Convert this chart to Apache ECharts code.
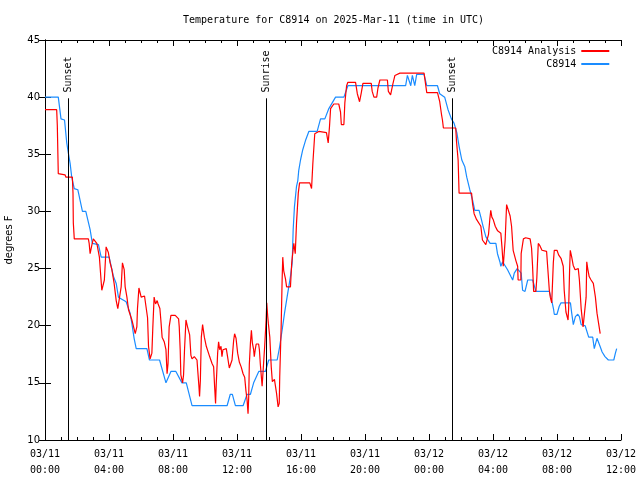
<!DOCTYPE html>
<html>
<head>
<meta charset="utf-8">
<script src="https://cdn.jsdelivr.net/npm/echarts@6/dist/echarts.min.js"></script>
<style>html,body{margin:0;padding:0;background:#fff}#c{width:640px;height:480px}</style>
</head>
<body>
<div id="c"></div>
<script>
// Hours since 2025-03-11 00:00 UTC
const analysisHours = [0,0.73,0.77,0.83,1.25,1.31,1.71,1.75,1.77,1.83,2.71,2.76,2.82,2.92,3.02,3.24,3.40,3.44,3.55,3.71,3.82,3.96,4.07,4.18,4.32,4.45,4.55,4.65,4.76,4.84,4.95,5.01,5.12,5.22,5.43,5.64,5.74,5.78,5.87,6.01,6.22,6.33,6.41,6.47,6.57,6.68,6.74,6.82,6.91,7.01,7.07,7.18,7.24,7.32,7.45,7.56,7.63,7.69,7.76,7.87,8.14,8.35,8.39,8.45,8.49,8.60,8.66,8.72,8.81,8.91,9.04,9.12,9.19,9.33,9.50,9.54,9.62,9.66,9.71,9.77,9.85,9.96,10.08,10.16,10.29,10.44,10.54,10.60,10.66,10.70,10.79,10.85,10.92,11.00,11.06,11.12,11.33,11.41,11.52,11.64,11.69,11.79,11.85,11.94,12.04,12.15,12.26,12.38,12.48,12.56,12.63,12.69,12.73,12.77,12.84,12.90,12.96,13.04,13.08,13.14,13.20,13.35,13.40,13.46,13.57,13.67,13.73,13.82,13.86,13.92,13.96,14.05,14.14,14.21,14.34,14.47,14.57,14.64,14.67,14.76,14.82,14.86,14.92,15.03,15.10,15.34,15.42,15.55,15.64,15.72,15.83,15.91,16.55,16.66,16.74,16.86,17.11,17.59,17.70,17.78,17.85,18.05,18.36,18.47,18.52,18.68,18.74,18.85,18.93,19.41,19.52,19.66,19.77,19.87,20.39,20.45,20.56,20.73,20.81,20.93,21.40,21.46,21.60,21.75,21.87,22.18,23.69,23.86,24.53,24.67,24.78,24.84,24.90,25.67,25.72,25.82,25.88,26.66,26.72,26.82,26.97,27.24,27.34,27.55,27.66,27.72,27.80,27.86,27.93,28.01,28.14,28.29,28.49,28.56,28.64,28.70,28.76,28.85,28.97,29.07,29.16,29.26,29.43,29.54,29.57,29.74,29.76,29.90,30.04,30.32,30.41,30.47,30.54,30.68,30.74,30.83,30.93,31.06,31.35,31.42,31.52,31.58,31.67,31.77,31.83,32.00,32.10,32.25,32.39,32.45,32.56,32.69,32.73,32.79,32.83,32.92,33.01,33.13,33.25,33.33,33.40,33.51,33.63,33.71,33.82,33.86,33.92,34.01,34.13,34.27,34.33,34.40,34.50,34.60,34.70];
const analysisTemps = [38.9,38.9,37.5,33.3,33.2,33.0,33.0,31.6,29.0,27.6,27.6,27.2,26.3,27.0,27.6,27.2,26.0,25.2,23.1,24.0,26.9,26.4,25.5,24.9,23.7,22.2,21.5,21.5,23.4,25.5,24.9,23.4,22.5,21.4,20.5,19.3,19.9,21.5,23.3,22.5,22.6,22.5,20.7,18.2,17.1,17.6,19.9,22.5,21.9,22.2,21.9,21.5,20.5,19.0,18.6,17.9,15.8,16.7,19.9,20.9,20.9,20.6,19.9,17.9,15.7,15.0,15.7,17.9,20.5,19.9,19.2,17.4,17.1,17.3,17.0,16.2,14.7,13.8,15.2,19.0,20.1,19.0,18.2,18.1,17.3,16.7,16.4,14.7,13.2,14.8,17.6,18.6,17.9,18.2,17.3,17.9,18.0,17.3,16.3,16.2,17.0,18.7,19.3,18.9,17.6,16.8,16.4,15.8,15.5,14.3,13.5,12.3,13.7,16.6,18.5,19.6,18.5,17.9,17.3,17.9,18.4,18.4,17.9,16.6,14.7,14.6,18.2,20.5,22.0,20.8,20.2,19.0,16.4,15.1,15.3,14.1,12.9,13.2,15.5,19.9,24.0,26.0,24.8,24.1,23.4,23.4,25.5,27.2,26.3,29.0,31.6,32.5,32.5,32.0,34.2,36.8,37.0,36.9,36.0,37.4,39.0,39.4,39.4,38.7,37.6,37.6,39.5,41.0,41.3,41.3,40.3,39.6,40.4,41.2,41.2,40.5,40.0,40.0,40.8,41.5,41.5,40.5,40.2,41.2,41.9,42.1,42.1,40.4,40.4,39.6,38.5,38.0,37.3,37.3,36.1,34.5,31.6,31.6,30.7,29.8,29.3,28.7,27.5,27.1,27.2,28.0,29.3,30.1,29.5,29.3,28.7,28.3,28.1,26.9,25.2,25.2,27.5,30.6,30.6,29.6,28.7,26.6,25.7,25.2,24.0,24.0,26.3,27.6,27.7,27.6,26.8,25.3,23.0,23.0,24.2,27.2,27.0,26.6,26.5,25.1,23.1,22.5,22.0,25.5,26.6,26.6,26.2,25.9,25.2,23.1,21.2,20.5,21.6,25.0,26.6,26.0,25.3,24.9,24.9,25.0,24.0,21.5,19.9,19.8,22.5,25.6,25.0,24.3,24.0,23.7,23.7,22.5,21.1,20.2,19.3];
const obsHours = [0,0.83,1.00,1.22,1.36,1.46,1.57,1.67,1.83,2.05,2.34,2.55,2.82,2.96,3.34,3.51,4.01,4.28,4.45,4.59,5.07,5.32,5.43,5.57,5.70,6.37,6.53,7.16,7.56,7.87,8.18,8.56,8.83,9.19,11.38,11.58,11.71,11.90,12.38,12.63,12.84,13.04,13.36,13.78,13.98,14.51,14.67,14.82,14.97,15.13,15.34,15.45,15.51,15.59,15.72,15.80,15.86,15.97,16.11,16.28,16.49,17.01,17.22,17.49,17.74,18.16,18.68,18.93,22.54,22.65,22.86,22.96,23.11,23.23,23.69,23.86,24.53,24.67,24.98,25.19,25.40,25.57,25.74,25.88,26.05,26.24,26.36,26.55,26.72,26.86,27.13,27.24,27.38,27.55,27.82,28.18,28.28,28.43,28.49,28.60,28.70,28.91,29.12,29.23,29.33,29.51,29.76,29.85,30.00,30.17,30.48,30.68,31.52,31.67,31.79,31.83,32.00,32.14,32.25,32.84,32.92,33.02,33.15,33.30,33.40,33.51,33.76,33.98,34.23,34.33,34.50,34.55,34.69,34.82,35.00,35.21,35.55,35.65,35.73];
const obsTemps = [40.0,40.0,38.1,38.0,36.0,35.1,34.2,33.0,32.0,31.9,30.0,30.0,28.4,27.2,27.1,26.0,26.0,24.3,23.7,22.5,22.1,21.1,20.2,18.9,18.0,18.0,17.0,17.0,15.0,16.0,16.0,15.0,15.0,13.0,13.0,14.0,14.0,13.0,13.0,14.0,14.0,15.0,16.0,16.0,17.0,17.0,18.2,19.6,21.1,22.5,24.3,25.5,28.4,30.4,32.2,32.7,33.6,34.5,35.4,36.2,37.0,37.0,38.1,38.1,39.0,40.0,40.0,41.0,41.0,41.9,41.0,41.9,41.0,42.0,42.0,41.0,41.0,40.3,40.0,38.9,38.1,37.7,36.9,35.7,34.5,33.9,33.0,31.9,31.0,30.1,30.1,29.5,28.7,27.8,27.2,27.2,26.3,25.6,25.2,25.6,25.7,24.9,24.3,24.0,24.6,25.0,24.6,23.1,23.0,24.0,24.0,23.0,23.0,22.2,21.4,21.0,21.0,21.7,22.0,22.0,21.1,20.1,20.8,21.0,20.8,20.1,20.0,19.0,19.0,18.0,18.9,19.0,18.2,17.7,17.3,17.0,17.0,17.6,18.0];
const eventNames = ['Sunset','Sunrise','Sunset'];
const eventHours = [1.46,13.85,25.45];
const eventTop = 39.9;      // top end of the event lines (deg F)
const eventLabelBase = 40.4; // where the rotated event labels start (deg F)
const seriesNames = ['C8914 Analysis','C8914'];
const seriesColors = ['#ff0000','#1a8cff'];
const dayLabels = ['03/11','03/12'];
const titleText = 'Temperature for C8914 on 2025-Mar-11 (time in UTC)';
const yName = 'degrees F';

const mono = 'DejaVu Sans Mono';
const sans = 'DejaVu Sans';
function pair(h, v){ return h.map((x,i)=>[x, v[i]]); }
function pad(n){ return (n<10?'0':'')+n; }

const lineMarks = eventHours.map(h => [{coord:[h,10]}, {coord:[h,eventTop]}]);

const chart = echarts.init(document.getElementById('c'), null, {renderer:'canvas'});
const axisCommon = {
  type:'value', min:0, max:36, interval:4,
  axisLine:{show:true, lineStyle:{color:'#000', width:1}},
  axisTick:{show:true, inside:true, length:6, lineStyle:{color:'#000'}},
  minorTick:{show:true, splitNumber:4, length:3, lineStyle:{color:'#000'}},
  splitLine:{show:false}
};
chart.setOption({
  animation:false,
  backgroundColor:'#fff',
  title:{text:titleText, left:178, top:10,
    textStyle:{fontFamily:mono, fontSize:10, fontWeight:'normal', color:'#000'}},
  legend:{show:true, orient:'vertical', left:492, top:46, bottom:'auto', right:'auto', width:135,
    align:'right', itemGap:3, itemWidth:28, itemHeight:2, icon:'rect', padding:0,
    textStyle:{fontFamily:mono, fontSize:10, color:'#000'},
    data:seriesNames},
  grid:{left:45, right:19, top:40, bottom:40, containLabel:false, outerBoundsMode:'none'},
  xAxis:[
    Object.assign({}, axisCommon, {position:'bottom',
      axisLabel:{show:true, margin:6, fontFamily:mono, fontSize:10, color:'#000', lineHeight:16,
        formatter:function(v){ const d=Math.floor(v/24); return dayLabels[d]+'\n'+pad(Math.round(v%24))+':00'; }}}),
    Object.assign({}, axisCommon, {position:'top', axisLabel:{show:false}})
  ],
  yAxis:[
    {type:'value', min:10, max:45, interval:5, position:'left',
     name:yName, nameLocation:'middle', nameGap:31, nameRotate:90,
     nameTextStyle:{fontFamily:sans, fontSize:10, color:'#000'},
     axisLine:{show:true, lineStyle:{color:'#000'}},
     axisTick:{show:true, inside:true, length:6, lineStyle:{color:'#000'}},
     axisLabel:{fontFamily:sans, fontSize:10, color:'#000', margin:5},
     splitLine:{show:false}},
    {type:'value', min:10, max:45, interval:5, position:'right',
     axisLine:{show:true, lineStyle:{color:'#000'}},
     axisTick:{show:true, inside:true, length:6, lineStyle:{color:'#000'}},
     axisLabel:{show:false}, splitLine:{show:false}}
  ],
  series:[
    {name:seriesNames[0], type:'line', data:pair(analysisHours, analysisTemps),
     symbol:'none', lineStyle:{color:seriesColors[0], width:1.2}, itemStyle:{color:seriesColors[0]}, z:3},
    {name:seriesNames[1], type:'line', data:pair(obsHours, obsTemps),
     symbol:'none', lineStyle:{color:seriesColors[1], width:1.2}, itemStyle:{color:seriesColors[1]}, z:2,
     markLine:{silent:true, symbol:['none','none'], lineStyle:{color:'#000', width:1, type:'solid'},
       label:{show:false}, data:lineMarks}},
    {name:'events', type:'scatter', symbol:'circle', symbolSize:1, z:4, silent:true,
     itemStyle:{color:'rgba(0,0,0,0)'},
     data:eventHours.map((h,i)=>({value:[h,eventLabelBase], name:eventNames[i]})),
     label:{show:true, position:'inside', rotate:90, align:'left', verticalAlign:'middle',
       formatter:p=>p.name, fontFamily:mono, fontSize:10, color:'#000', opacity:1},
     emphasis:{disabled:true}}
  ]
});
</script>
</body>
</html>
